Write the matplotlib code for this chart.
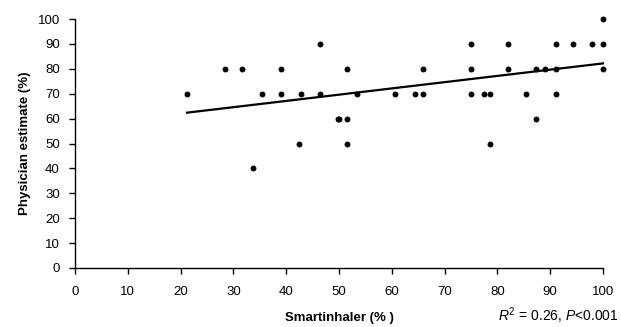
import matplotlib
matplotlib.use("Agg")
import matplotlib.pyplot as plt
import numpy as np

plt.rcParams["font.family"] = ["Liberation Sans", "DejaVu Sans"]
plt.rcParams["mathtext.fontset"] = "custom"
plt.rcParams["mathtext.rm"] = "Liberation Sans"
plt.rcParams["mathtext.it"] = "Liberation Sans:italic"

# Smartinhaler adherence (%) vs physician estimate (%)
smartinhaler = [21.2, 28.5, 31.7, 33.8, 35.5, 39.0, 39.0, 42.4, 42.8, 46.4, 46.4,
                49.9, 50.0, 51.6, 51.6, 51.6, 53.5, 60.7, 64.3, 66.0, 66.0,
                75.0, 75.0, 75.0, 77.5, 78.6, 78.6, 82.1, 82.1, 85.5, 87.4,
                87.4, 89.1, 91.1, 91.1, 91.1, 94.4, 98.0, 100.0, 100.0, 100.0]
physician = [70, 80, 80, 40, 70, 80, 70, 50, 70, 90, 70,
             60, 60, 80, 60, 50, 70, 70, 70, 70, 80,
             90, 80, 70, 70, 70, 50, 90, 80, 70, 60,
             80, 80, 80, 90, 70, 90, 90, 90, 100, 80]

x = np.array(smartinhaler)
y = np.array(physician)
slope, intercept = np.polyfit(x, y, 1)

fig = plt.figure(figsize=(6.21, 3.27), dpi=100)
ax = fig.add_axes([75 / 621, 1 - 268 / 327, (603 - 75) / 621, (268 - 19) / 327])

ax.scatter(x, y, s=18, color="black", zorder=3, linewidths=0, clip_on=False)
xs = np.array([x.min(), x.max()])
ax.plot(xs, intercept + slope * xs, color="black", linewidth=1.6, clip_on=False)

ax.set_xlim(0, 100)
ax.set_ylim(0, 100)
ax.set_xticks(range(0, 101, 10))
ax.set_yticks(range(0, 101, 10))
for s in ["top", "right"]:
    ax.spines[s].set_visible(False)
ax.spines["left"].set_linewidth(1.0)
ax.spines["bottom"].set_linewidth(1.0)
ax.tick_params(direction="out", length=4, width=1, labelsize=9.5)
ax.tick_params(axis="x", pad=9)
ax.tick_params(axis="y", pad=7)

ax.set_xlabel("Smartinhaler (% )", fontsize=9.5, fontweight="bold", labelpad=10)
ax.set_ylabel("Physician estimate (%)", fontsize=9.5, fontweight="bold", labelpad=5)

fig.text(619 / 621, 1 - 316 / 327, r"$\it{R}^2$ = 0.26, $\it{P}$<0.001",
         fontsize=10, va="center", ha="right")

fig.savefig("out.png", dpi=100)
